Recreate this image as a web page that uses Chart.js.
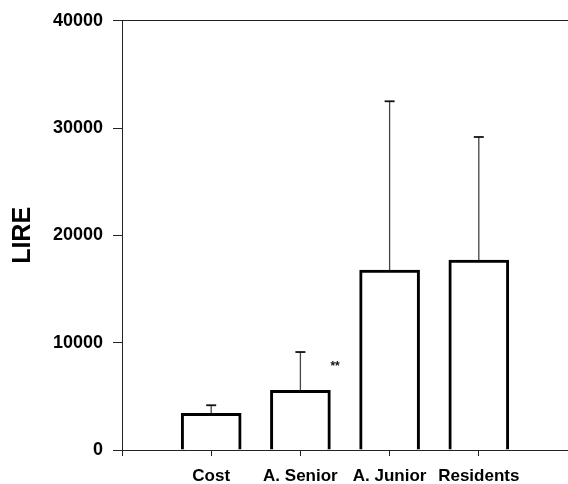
<!DOCTYPE html>
<html>
<head>
<meta charset="utf-8">
<script src="https://cdn.jsdelivr.net/npm/chart.js@4/dist/chart.umd.min.js"></script>
<style>
  html, body { margin: 0; padding: 0; background: #fff; }
  #wrap { width: 568px; height: 484px; }
</style>
</head>
<body>
<div id="wrap"><canvas id="costChart" width="568" height="484"></canvas></div>
<script>
// cost per group, with the upper SD whisker and significance marks
const groups = ['Cost', 'A. Senior', 'A. Junior', 'Residents'];
const meanLire = [3420, 5560, 16760, 17710];
const sdLire = [750, 3570, 15740, 11460];
const sigMarks = ['', '**', '', ''];
const yTicks = [0, 10000, 20000, 30000, 40000];

// empty slots on both sides so the groups sit at 1..4 on the axis
const axisLabels = [''].concat(groups, ['']);
const barValues = [null].concat(meanLire, [null]);

const errorBars = {
    id: 'errorBars',
    afterDatasetsDraw(chart) {
        const ctx = chart.ctx;
        const xs = chart.scales.x, ys = chart.scales.y;
        ctx.save();
        groups.forEach((g, i) => {
            const x = xs.getPixelForValue(i + 1);
            const yBar = ys.getPixelForValue(meanLire[i]);
            const yTop = ys.getPixelForValue(meanLire[i] + sdLire[i]);
            ctx.strokeStyle = '#444';
            ctx.lineWidth = 1.3;
            ctx.beginPath();
            ctx.moveTo(x, yBar);
            ctx.lineTo(x, yTop);
            ctx.stroke();
            ctx.strokeStyle = '#111';
            ctx.lineWidth = 1.8;
            ctx.beginPath();
            ctx.moveTo(x - 5, yTop);
            ctx.lineTo(x + 5, yTop);
            ctx.stroke();
            if (sigMarks[i]) {
                ctx.fillStyle = '#111';
                ctx.font = 'bold 12px "Liberation Sans", Arial, sans-serif';
                ctx.textAlign = 'left';
                ctx.textBaseline = 'middle';
                ctx.fillText(sigMarks[i], x + 30, yTop + 15);
            }
        });
        ctx.restore();
    }
};

// keep the plot flush with the canvas edges
function noSidePadding(scale) {
    scale.paddingLeft = 0;
    scale.paddingRight = 0;
}

const ctx = document.getElementById('costChart').getContext('2d');
new Chart(ctx, {
    type: 'bar',
    data: {
        labels: axisLabels,
        datasets: [{
            data: barValues,
            backgroundColor: '#fff',
            borderColor: '#000',
            borderWidth: 3,
            borderSkipped: 'bottom',
            barThickness: 60
        }]
    },
    options: {
        responsive: false,
        animation: false,
        layout: { padding: { top: 19, right: 0, bottom: 0, left: 0 } },
        plugins: { legend: { display: false }, tooltip: { enabled: false } },
        scales: {
            x: {
                offset: false,
                grid: { drawOnChartArea: false, offset: false, tickLength: 6, color: '#222' },
                border: { color: '#222', width: 1 },
                ticks: {
                    autoSkip: false, maxRotation: 0, padding: 10, color: '#000',
                    font: { family: '"Liberation Sans", Arial, sans-serif', size: 17, weight: 'bold' }
                },
                afterFit(scale) { scale.height = 34; noSidePadding(scale); }
            },
            top: {
                type: 'category',
                position: 'top',
                labels: axisLabels,
                offset: false,
                grid: { display: false, drawTicks: false },
                border: { color: '#222', width: 1 },
                ticks: { display: false },
                afterFit(scale) { scale.height = 0; noSidePadding(scale); }
            },
            y: {
                min: 0,
                max: 40000,
                afterBuildTicks(scale) { scale.ticks = yTicks.map(v => ({ value: v })); },
                grid: { drawOnChartArea: false, tickLength: 9, color: '#222' },
                border: { color: '#222', width: 1 },
                ticks: {
                    padding: 10, color: '#000',
                    font: { family: '"Liberation Sans", Arial, sans-serif', size: 18, weight: 'bold' },
                    callback: v => String(v)
                },
                title: {
                    display: true, text: 'LIRE', color: '#000',
                    padding: { top: 8, bottom: 0 },
                    font: { family: '"Liberation Sans", Arial, sans-serif', size: 25, weight: 'bold' }
                },
                afterFit(scale) { scale.width = 122; }
            }
        }
    },
    plugins: [errorBars]
});
</script>
</body>
</html>
